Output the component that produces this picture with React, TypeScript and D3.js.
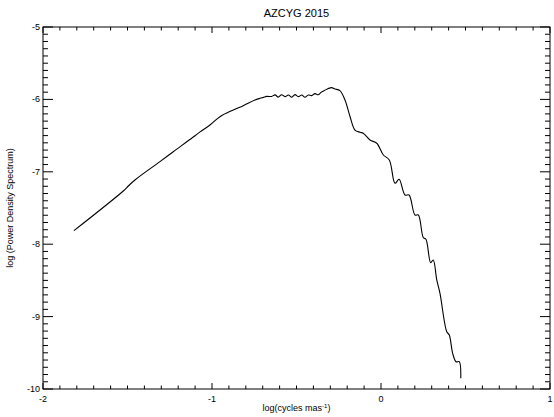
import React from "react";
import * as d3 from "d3";

const logFreq = [
  -1.817, -1.525, -1.495, -1.456, -1.308, -1.229, -1.111, -1.071, -1.012, -0.953,
  -0.874, -0.815, -0.746, -0.716, -0.696, -0.676, -0.647, -0.627, -0.608, -0.588,
  -0.568, -0.548, -0.528, -0.509, -0.489, -0.469, -0.450, -0.430, -0.410, -0.391,
  -0.371, -0.351, -0.331, -0.312, -0.292, -0.272, -0.243, -0.213, -0.183, -0.154,
  -0.124, -0.105, -0.065, -0.025, 0.014, 0.049, 0.083, 0.107, 0.142, 0.166,
  0.201, 0.221, 0.250, 0.266, 0.294, 0.309, 0.330, 0.349, 0.389, 0.404,
  0.424, 0.444, 0.463, 0.472,
];
const logPower = [
  -7.813, -7.265, -7.196, -7.113, -6.860, -6.723, -6.520, -6.448, -6.354, -6.239,
  -6.146, -6.087, -6.008, -5.985, -5.972, -5.958, -5.960, -5.938, -5.968, -5.936,
  -5.962, -5.940, -5.970, -5.934, -5.962, -5.940, -5.970, -5.940, -5.948, -5.920,
  -5.936, -5.896, -5.872, -5.850, -5.838, -5.856, -5.878, -6.008, -6.239, -6.423,
  -6.454, -6.468, -6.561, -6.606, -6.768, -6.837, -7.159, -7.104, -7.320, -7.320,
  -7.597, -7.597, -7.907, -7.932, -8.256, -8.218, -8.494, -8.678, -9.209, -9.254,
  -9.507, -9.623, -9.623, -9.852,
];
const xTicks = [-2, -1, 0, 1];
const yTicks = [-10, -9, -8, -7, -6, -5];
const title = "AZCYG 2015";
const yLabel = "log (Power Density Spectrum)";

export default function App() {
  const W = 554, H = 417;
  const L = 43, R = 550, T = 27, B = 389;
  const x = d3.scaleLinear().domain([-2, 1]).range([L, R]);
  const y = d3.scaleLinear().domain([-10, -5]).range([B, T]);
  const pts = logFreq.map((f, i) => [f, logPower[i]] as [number, number]);
  const line = d3
    .line<[number, number]>()
    .x(d => x(d[0]))
    .y(d => y(d[1]))
    .curve(d3.curveCatmullRom.alpha(0.5));
  const xMinor = d3.range(-2, 1.0001, 0.1).map(v => +v.toFixed(2));
  const yMinor = d3.range(-10, -4.9999, 0.1).map(v => +v.toFixed(2));
  const isMajor = (v: number) => Math.abs(v - Math.round(v)) < 1e-6;
  const font = "Liberation Sans, Arial, sans-serif";
  return (
    <svg width={W} height={H} style={{ position: "absolute", left: 0, top: 0, background: "#fff" }}>
      <rect x={0} y={0} width={W} height={H} fill="#fff" />
      <text x={(L + R) / 2} y={17} textAnchor="middle" fontFamily={font} fontSize={11}>{title}</text>
      <rect x={L} y={T} width={R - L} height={B - T} fill="none" stroke="#000" strokeWidth={1} />
      {xMinor.map((v, i) => {
        const len = isMajor(v) ? 6 : 3.5;
        const px = x(v);
        return (
          <g key={"xt" + i}>
            <line x1={px} x2={px} y1={B} y2={B - len} stroke="#000" />
            <line x1={px} x2={px} y1={T} y2={T + len} stroke="#000" />
          </g>
        );
      })}
      {yMinor.map((v, i) => {
        const len = isMajor(v) ? 10 : 5;
        const py = y(v);
        return (
          <g key={"yt" + i}>
            <line x1={L} x2={L + len} y1={py} y2={py} stroke="#000" />
            <line x1={R} x2={R - len} y1={py} y2={py} stroke="#000" />
          </g>
        );
      })}
      {xTicks.map(v => (
        <text key={"xl" + v} x={x(v)} y={B + 13} textAnchor="middle" fontFamily={font} fontSize={9}>{String(v)}</text>
      ))}
      {yTicks.map(v => (
        <text key={"yl" + v} x={L - 3} y={y(v) + 3} textAnchor="end" fontFamily={font} fontSize={9}>{String(v)}</text>
      ))}
      <text x={(L + R) / 2} y={411} textAnchor="middle" fontFamily={font} fontSize={9}>
        log(cycles mas<tspan dy={-3} fontSize={6}>-1</tspan><tspan dy={3}>)</tspan>
      </text>
      <text transform={`translate(13,${(T + B) / 2}) rotate(-90)`} textAnchor="middle" fontFamily={font} fontSize={9}>{yLabel}</text>
      <path d={line(pts) || ""} fill="none" stroke="#000" strokeWidth={1.1} strokeLinejoin="round" />
    </svg>
  );
}
